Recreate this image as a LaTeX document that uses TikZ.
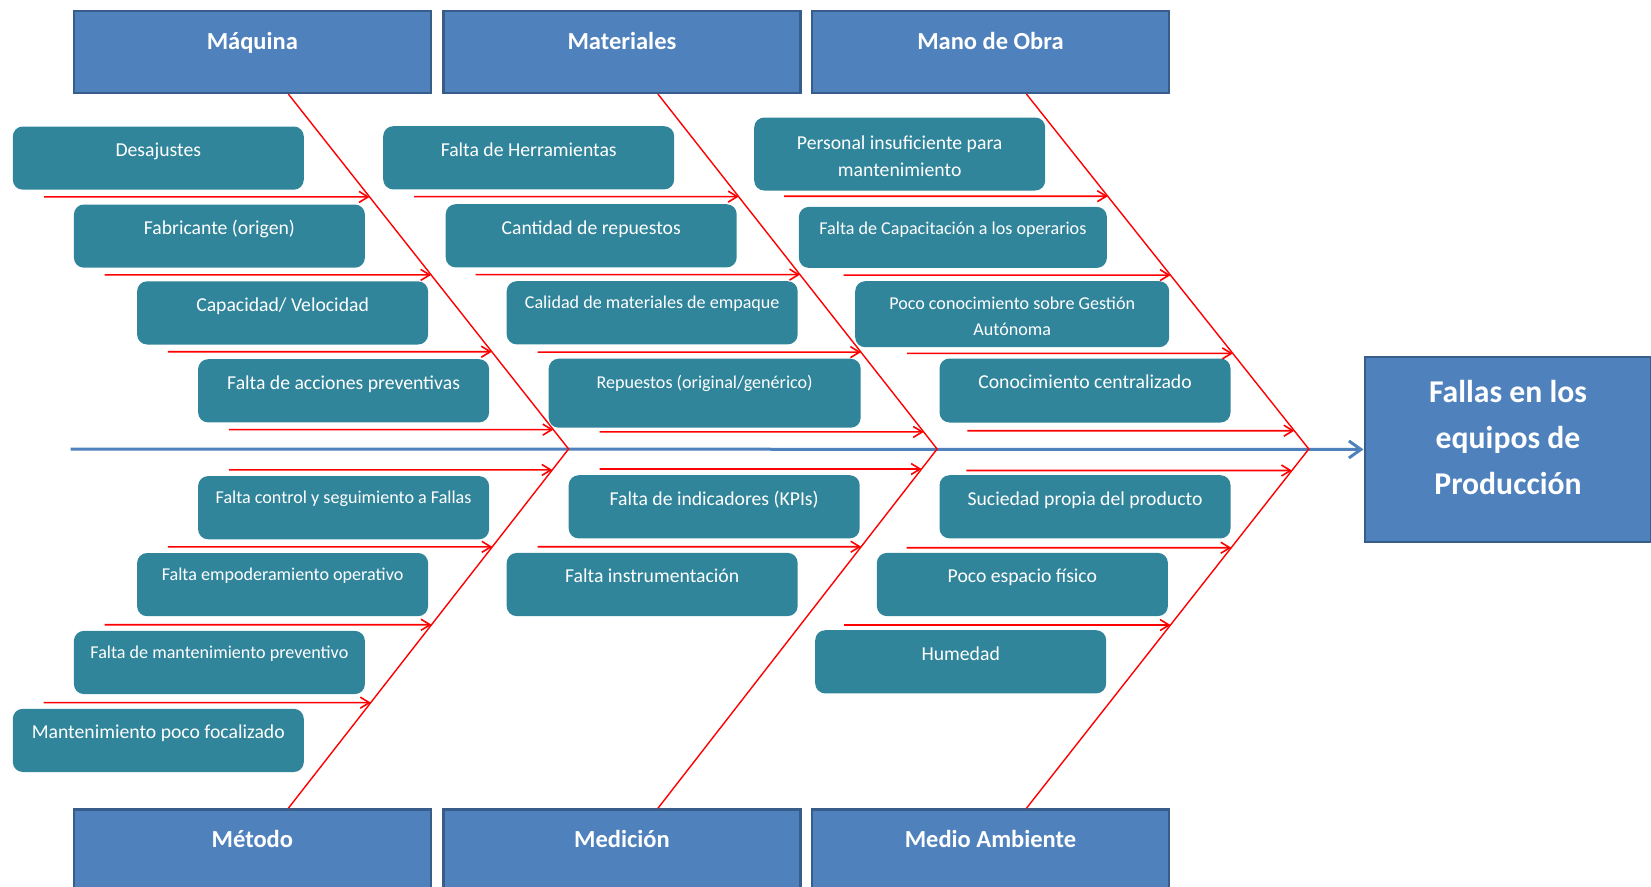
\documentclass[tikz,border=0pt]{standalone}
\usepackage{fontspec}
\setmainfont{Carlito}
\usetikzlibrary{arrows.meta,calc}
\definecolor{grupoazul}{RGB}{79,129,189}
\definecolor{grupoborde}{RGB}{56,93,138}
\definecolor{causaverde}{RGB}{49,133,155}
\tikzset{
  grupo/.style={draw=grupoborde, line width=2.5, fill=grupoazul, text=white, font=\fontsize{24.5}{29}\selectfont\bfseries, inner sep=0, minimum width=357, text height=38.4, text depth=43.6, anchor=north west},
  efecto/.style={draw=grupoborde, line width=2.5, fill=grupoazul, text=white, font=\fontsize{31.7}{46}\selectfont\bfseries, align=center, inner sep=0, minimum width=286.5, text height=137.3, text depth=47.7, anchor=north west},
  causa/.style={fill=causaverde, rounded corners=10, text=white, font=\fontsize{19.7}{27.4}\selectfont, align=center, inner sep=0, minimum width=291, text height=30, text depth=33.2, anchor=north west},
  causachica/.style={font=\fontsize{18.1}{25.7}\selectfont, text height=27.5, text depth=35.7},
  espina/.style={red, line width=1.4},
  flecha/.style={red, line width=1.6, -{Straight Barb[length=9,width=11]}},
  eje/.style={grupoazul, line width=3, -{Straight Barb[length=12,width=17]}},
}
% rama: start point, then the two ends of the bone it hits
\newcommand{\rama}[3]{\path #1 coordinate (s0) ++(10,0) coordinate (s1);
  \draw[flecha] (s0) -- (intersection of s0--s1 and #2--#3);}

\begin{document}
\begin{tikzpicture}[x=1pt,y=-1pt]
	%%%%% START %%%%%
	\useasboundingbox (0,0) rectangle (1651,886);

	\node[grupo] (maq) at (72.6,9.5) {Máquina};
	\node[grupo] (mat) at (442.2,9.5) {Materiales};
	\node[grupo] (mob) at (810.7,9.5) {Mano de Obra};
	\node[grupo] (met) at (72.6,808.3) {Método};
	\node[grupo] (med) at (442.2,808.3) {Medición};
	\node[grupo] (mam) at (810.7,808.3) {Medio Ambiente};

	\node[efecto] (efe) at (1363.5,355.7) {Fallas en los\\equipos de\\Producción};

	% causas arriba
	\node[causa] (d1) at (12.6,126.3) {Desajustes};
	\node[causa] (d2) at (73.7,204.3) {Fabricante (origen)};
	\node[causa] (d3) at (136.9,281.1) {Capacidad/ Velocidad};
	\node[causa] (d4) at (197.9,359) {Falta de acciones preventivas};

	\node[causa] (r1) at (383,126) {Falta de Herramientas};
	\node[causa] (r2) at (445.5,204) {Cantidad de repuestos};
	\node[causa, causachica] (r3) at (506.5,281) {Calidad de materiales de empaque};
	\node[causa, causachica, minimum width=312, text height=30, text depth=39] (r4) at (548.5,358.5) {Repuestos (original/genérico)};

	\node[causa, text height=59.4, text depth=13.6] (o1) at (754,117.3) {Personal insuficiente para\\mantenimiento};
	\node[causa, causachica, minimum width=308, text height=27.3, text depth=33.7] (o2) at (798.7,206.7) {Falta de Capacitación a los operarios};
	\node[causa, causachica, minimum width=314, text height=54, text depth=12] (o3) at (855,281) {Poco conocimiento sobre Gestión\\Autónoma};
	\node[causa, text depth=34] (o4) at (939.3,358.3) {Conocimiento centralizado};

	% causas abajo
	\node[causa, causachica] (m1) at (197.9,475.9) {Falta control y seguimiento a Fallas};
	\node[causa, causachica] (m2) at (136.9,552.8) {Falta empoderamiento operativo};
	\node[causa, causachica] (m3) at (73.7,630.7) {Falta de mantenimiento preventivo};
	\node[causa] (m4) at (12.6,708.6) {Mantenimiento poco focalizado};

	\node[causa] (e1) at (568.5,475) {Falta de indicadores (KPIs)};
	\node[causa] (e2) at (506.5,552.7) {Falta instrumentación};

	\node[causa] (a1) at (939.3,475) {Suciedad propia del producto};
	\node[causa] (a2) at (876.7,552.7) {Poco espacio físico};
	\node[causa] (a3) at (815,630) {Humedad};

	% eje y espinas
	\coordinate (cola) at (70.5,449);
	\coordinate (j1) at (568.6,449);
	\coordinate (j2) at (937.1,449);
	\coordinate (j3) at (1308.8,449);
	\coordinate (t1) at ($(maq.south west)!0.6!(maq.south east)$);
	\coordinate (t2) at ($(mat.south west)!0.6!(mat.south east)$);
	\coordinate (t3) at ($(mob.south west)!0.6!(mob.south east)$);
	\coordinate (b1) at ($(met.north west)!0.6!(met.north east)$);
	\coordinate (b2) at ($(med.north west)!0.6!(med.north east)$);
	\coordinate (b3) at ($(mam.north west)!0.6!(mam.north east)$);

	\draw[eje] (cola) -- (efe.west);
	\draw[espina] (t1) -- (j1) -- (b1);
	\draw[espina] (t2) -- (j2) -- (b2);
	\draw[espina] (t3) -- (j3) -- (b3);

	\rama{($(d1.south west)+(31.6,7)$)}{t1}{j1}
	\rama{($(d2.south west)+(31,7)$)}{t1}{j1}
	\rama{($(d3.south west)+(31,7)$)}{t1}{j1}
	\rama{($(d4.south west)+(31,7)$)}{t1}{j1}

	\rama{($(r1.south west)+(31,7)$)}{t2}{j2}
	\rama{($(r2.south west)+(30,7)$)}{t2}{j2}
	\rama{($(r3.south west)+(31,7.5)$)}{t2}{j2}
	\rama{($(r4.south west)+(51,4)$)}{t2}{j2}

	\rama{($(o1.south west)+(30,5.5)$)}{t3}{j3}
	\rama{($(o2.south west)+(45,7)$)}{t3}{j3}
	\rama{($(o3.south west)+(52,6)$)}{t3}{j3}
	\rama{($(o4.south west)+(28,8)$)}{t3}{j3}

	\rama{($(m1.north west)+(31,-6)$)}{b1}{j1}
	\rama{($(m2.north west)+(31,-6)$)}{b1}{j1}
	\rama{($(m3.north west)+(31,-6)$)}{b1}{j1}
	\rama{($(m4.north west)+(31,-6)$)}{b1}{j1}

	\rama{($(e1.north west)+(31,-6)$)}{b2}{j2}
	\rama{($(e2.north west)+(31,-6)$)}{b2}{j2}

	\rama{($(a1.north west)+(27,-4.5)$)}{b3}{j3}
	\rama{($(a2.north west)+(30,-5)$)}{b3}{j3}
	\rama{($(a3.north west)+(29,-5)$)}{b3}{j3}
	%%%%% END %%%%%
\end{tikzpicture}
\end{document}
